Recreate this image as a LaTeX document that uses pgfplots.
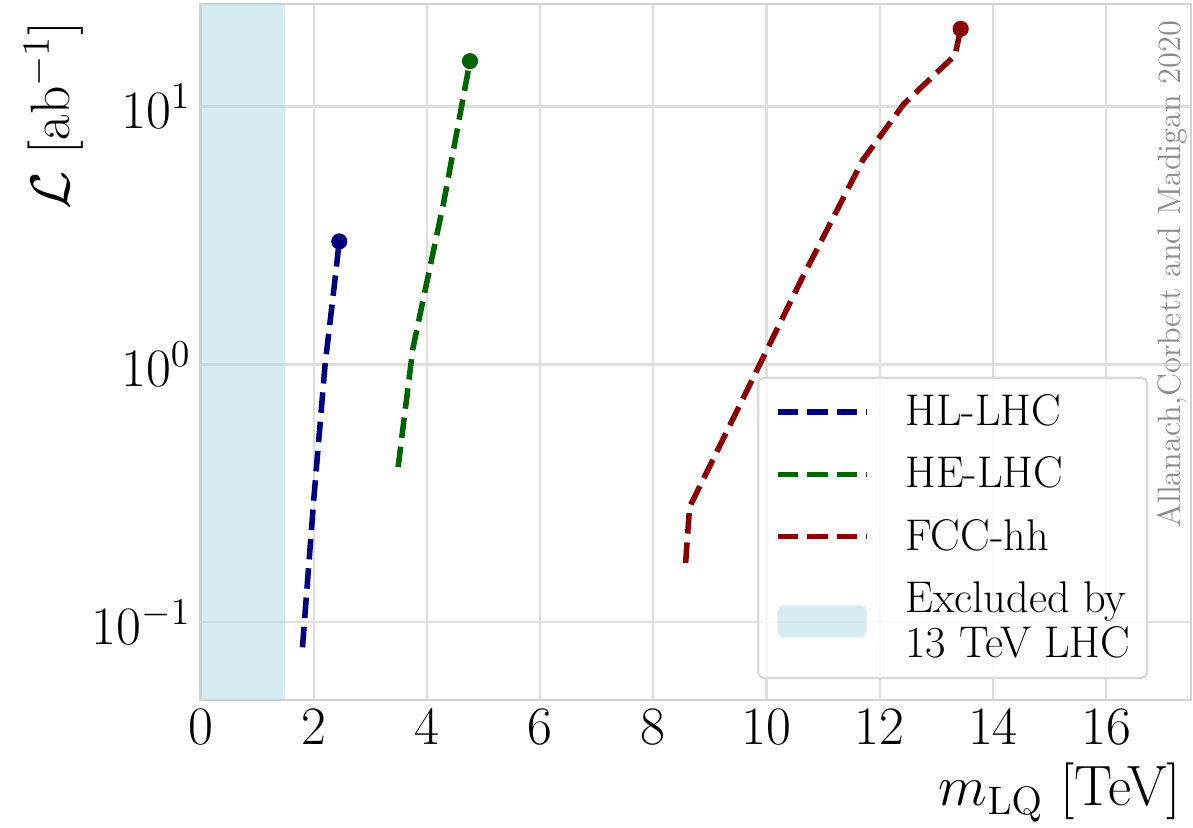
\RequirePackage{fix-cm}
\documentclass[border=0pt]{standalone}
\usepackage{pgfplots}
\pgfplotsset{compat=1.18}
\definecolor{hl}{RGB}{0,0,128}
\definecolor{he}{RGB}{0,100,0}
\definecolor{fcc}{RGB}{139,0,0}
\definecolor{excl}{RGB}{173,216,230}
\begin{document}
\begin{tikzpicture}
\begin{axis}[
  scale only axis, width=357pt, height=250.9pt,
  xmin=0, xmax=17.5, ymode=log, ymin=0.05, ymax=25,
  xtick={0,2,...,16}, ytick={0.1,1,10},
  yminorticks=false,
  major tick length=0pt,
  grid=major, major grid style={draw=black!13, line width=0.8pt},
  axis line style={draw=black!18, line width=1pt},
  tick label style={font=\fontsize{19.5}{23}\selectfont},
  xlabel={$m_{\mathrm{LQ}}$ [TeV]},
  ylabel={$\mathcal{L}$ [ab$^{-1}$]},
  xlabel style={font=\fontsize{20.5}{24}\selectfont, inner sep=0pt, at={(axis description cs:0.990,-0.152)}, anchor=base east},
  ylabel style={font=\fontsize{20}{24}\selectfont, at={(axis description cs:-0.1328,0.988)}, anchor=base east},
  legend style={
    at={(axis description cs:0.9567,0.030)}, anchor=south east,
    draw=black!15, line width=0.8pt, rounded corners=2pt,
    fill=white, fill opacity=0.8, text opacity=1,
    font=\fontsize{16}{16.2}\selectfont,
    inner xsep=6pt, inner ysep=6pt,
    row sep=9.8pt,
    nodes={inner sep=0pt, align=left},
    /tikz/every odd column/.append style={column sep=13pt},
  },
  legend cell align=left,
  legend image code/.code={\draw[#1] (0pt,0pt) -- (32pt,0pt);},
  mystyle/.style={line width=2pt, dash pattern=on 7.4pt off 3.2pt},
]
% excluded region
\addplot[draw=none, fill=excl, fill opacity=0.5, forget plot]
  coordinates {(0,0.05) (1.5,0.05) (1.5,25) (0,25)} -- cycle;

\addplot[hl, mystyle] coordinates {
  (1.80,0.08) (2.00,0.30) (2.20,1.00) (2.36,2.00) (2.45,3.00)};
\addlegendentry{HL-LHC}
\addplot[he, mystyle] coordinates {
  (3.49,0.40) (3.75,1.15) (4.30,4.30) (4.76,15.0)};
\addlegendentry{HE-LHC}
\addplot[fcc, mystyle] coordinates {
  (8.57,0.17) (8.64,0.28) (9.60,0.75) (10.60,2.10) (11.70,6.20) (12.42,10.2) (13.33,15.8) (13.43,20.0)};
\addlegendentry{FCC-hh}

\addplot[only marks, mark=*, mark size=2.7pt, hl, forget plot] coordinates {(2.45,3.0)};
\addplot[only marks, mark=*, mark size=2.7pt, he, forget plot] coordinates {(4.76,15.0)};
\addplot[only marks, mark=*, mark size=2.7pt, fcc, forget plot] coordinates {(13.43,20.0)};

\addlegendimage{legend image code/.code={\fill[draw=none, excl, fill opacity=0.5] (0pt,-5.8pt) rectangle (32pt,5.8pt);}}
\addlegendentry{Excluded by\\13 TeV LHC}

\node[rotate=90, anchor=base east, text=black!45, font=\fontsize{11.7}{14}\selectfont]
  at (axis description cs:0.989,0.99) {Allanach,Corbett and Madigan 2020};
\end{axis}
\pgfresetboundingbox
\path[use as bounding box] ([shift={(-72.3pt,-45.8pt)}]current axis.south west) rectangle ([shift={(0.7pt,1.4pt)}]current axis.north east);
\end{tikzpicture}
\end{document}
